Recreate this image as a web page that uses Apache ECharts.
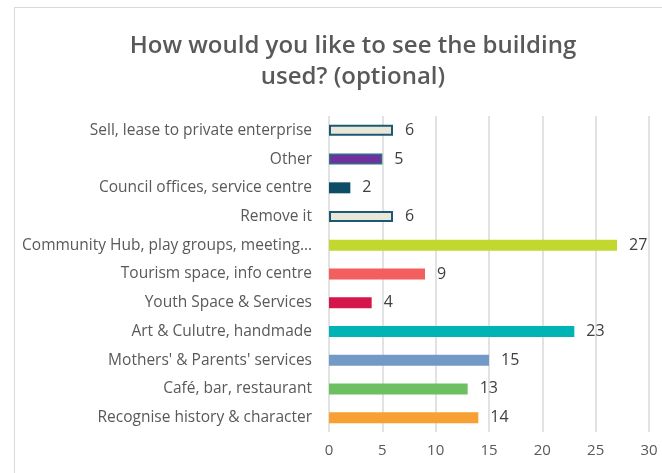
<!DOCTYPE html>
<html>
<head>
<meta charset="utf-8">
<script src="https://cdn.jsdelivr.net/npm/echarts@6/dist/echarts.min.js"></script>
<style>
  html, body { margin: 0; padding: 0; background: #fff; }
  #frame { position: absolute; left: 14px; top: 7px; width: 660px; height: 480px;
           border-left: 1px solid #d9d9d9; border-top: 1px solid #d9d9d9; }
  #chart { position: absolute; left: 0; top: 0; width: 662px; height: 473px; }
</style>
</head>
<body>
<div id="frame"></div>
<div id="chart"></div>
<script>
// categories top to bottom
const categories = [
  'Sell, lease to private enterprise',
  'Other',
  'Council offices, service centre',
  'Remove it',
  'Community Hub, play groups, meeting…',
  'Tourism space, info centre',
  'Youth Space & Services',
  'Art & Culutre, handmade',
  "Mothers' & Parents' services",
  'Café, bar, restaurant',
  'Recognise history & character'
]
const values = [6, 5, 2, 6, 27, 9, 4, 23, 15, 13, 14]
const fills = ['#e8e7da', '#7030a0', '#0d4e66', '#e8e7da', '#c3d82e', '#f35e5e',
               '#d5164b', '#00b3b5', '#7399c6', '#6dbf62', '#f8a034']
const borders = ['#1b5a72', '#2f6f86', '#0d4e66', '#1b5a72', '#c3d82e', '#f35e5e',
                 '#d5164b', '#00b3b5', '#7399c6', '#6dbf62', '#f8a034']
const borderWidths = [2, 1.5, 0, 2, 0, 0, 0, 0, 0, 0, 0]
const xTicks = [0, 30, 5]

const font = 'Open Sans'
const chart = echarts.init(document.getElementById('chart'))
chart.setOption({
  animation: false,
  title: {
    text: 'How would you like to see the building\nused? (optional)',
    left: 348,
    top: 26,
    textAlign: 'center',
    textStyle: { fontFamily: font, fontSize: 24, fontWeight: 600, color: '#595959', lineHeight: 31 }
  },
  grid: { left: 329, right: 13, top: 116, bottom: 41, containLabel: false },
  xAxis: {
    type: 'value',
    min: xTicks[0], max: xTicks[1], interval: xTicks[2],
    axisLine: { show: false },
    axisTick: { show: false },
    splitLine: { show: true, lineStyle: { color: '#d9d9d9', width: 1.5 } },
    axisLabel: { fontFamily: font, fontSize: 15, color: '#595959', margin: 11 }
  },
  yAxis: {
    type: 'category',
    inverse: true,
    data: categories,
    axisLine: { show: false },
    axisTick: { show: false },
    axisLabel: { fontFamily: font, fontSize: 15.5, color: '#595959', margin: 17 }
  },
  series: [{
    type: 'bar',
    barWidth: 11,
    data: values.map((v, i) => ({
      value: v,
      itemStyle: { color: fills[i], borderColor: borders[i], borderWidth: borderWidths[i] }
    })),
    label: {
      show: true, position: 'right', distance: 12,
      fontFamily: font, fontSize: 16, color: '#404040'
    }
  }]
})
</script>
</body>
</html>
